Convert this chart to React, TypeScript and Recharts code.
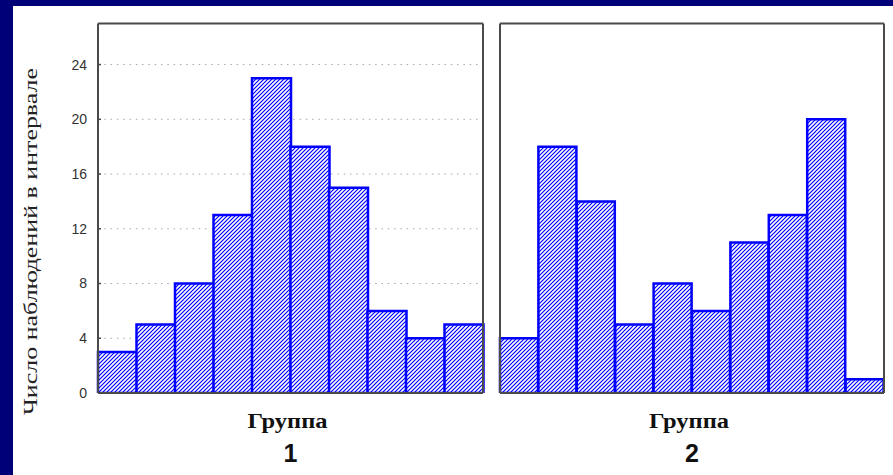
import React from 'react';
import { BarChart, Bar, XAxis, YAxis, CartesianGrid } from 'recharts';

const categories = ['1', '2', '3', '4', '5', '6', '7', '8', '9', '10'];
const group1Values = [3, 5, 8, 13, 23, 18, 15, 6, 4, 5];
const group2Values = [4, 18, 14, 5, 8, 6, 11, 13, 20, 1];
const yTicks = [0, 4, 8, 12, 16, 20, 24];
const boundaryTicks = [1, 2, 3, 4, 5, 6, 7, 8, 9];
const yAxisTitle = 'Число наблюдений в интервале';
const groupTitle = 'Группа';
const groupNames = ['1', '2'];

const FRAME = '#4a4a4a';
const BLUE = '#0000ff';

type PanelProps = {
  values: number[];
  groupName: string;
  showYLabels: boolean;
  width: number;
  margin: { top: number; right: number; bottom: number; left: number };
  leftAxisWidth: number;
  pid: string;
};

function Panel({ values, groupName, showYLabels, width, margin, leftAxisWidth, pid }: PanelProps) {
  const data = categories.map((c, i) => ({ cat: c, v: values[i], pos: i + 0.5 }));
  return (
    <BarChart
      width={width}
      height={469}
      data={data}
      margin={margin}
      barCategoryGap={0}
      barGap={0}
    >
      <defs>
        <pattern id={pid} patternUnits="userSpaceOnUse" width={4} height={4}>
          <rect x={0} y={0} width={4} height={4} fill="#ffffff" />
          <path d="M-1,1 L1,-1 M0,4 L4,0 M3,5 L5,3" stroke={BLUE} strokeWidth={1.2} />
        </pattern>
      </defs>
      <CartesianGrid
        xAxisId="b"
        yAxisId="l"
        vertical={false}
        stroke="#a8a8a8"
        strokeDasharray="1.5 4.8"
      />
      <XAxis
        dataKey="cat"
        xAxisId="b"
        height={82}
        axisLine={{ stroke: FRAME, strokeWidth: 2 }}
        tickLine={false}
        tick={false}
        label={{
          content: (p: any) => {
            const vb = p.viewBox || { x: 0, y: 0, width: 0 };
            const cx = vb.x + vb.width / 2;
            return (
              <g>
                <text
                  x={cx - 3}
                  y={vb.y + 35}
                  textAnchor="middle"
                  fontFamily="'Liberation Serif', serif"
                  fontWeight="bold"
                  fontSize={20}
                  fill="#111"
                  textLength={80}
                  lengthAdjust="spacingAndGlyphs"
                >
                  {groupTitle}
                </text>
                <text
                  x={cx}
                  y={vb.y + 69}
                  textAnchor="middle"
                  fontFamily="'Liberation Sans', Arial, sans-serif"
                  fontWeight="bold"
                  fontSize={25}
                  fill="#111"
                >
                  {groupName}
                </text>
              </g>
            );
          },
        }}
      />
      <XAxis
        xAxisId="t"
        dataKey="pos"
        orientation="top"
        type="number"
        domain={[0, 10]}
        allowDataOverflow
        ticks={boundaryTicks}
        height={1}
        axisLine={{ stroke: FRAME, strokeWidth: 2 }}
        tickLine={{ stroke: FRAME, strokeWidth: 1.5 }}
        tickSize={-3}
        tick={false}
      />
      <YAxis
        yAxisId="l"
        domain={[0, 27]}
        allowDataOverflow
        ticks={yTicks}
        interval={0}
        width={leftAxisWidth}
        axisLine={{ stroke: FRAME, strokeWidth: 2 }}
        tickLine={{ stroke: FRAME, strokeWidth: 1.5 }}
        tickSize={-3}
        tickMargin={14}
        tick={
          showYLabels
            ? { fill: '#333', fontSize: 14, fontFamily: "'Liberation Sans', Arial, sans-serif" }
            : false
        }
        label={
          showYLabels
            ? {
                content: () => (
                  <text
                    x={24}
                    y={235.5}
                    transform="rotate(-90, 24, 235.5)"
                    textAnchor="middle"
                    fontFamily="'Liberation Serif', serif"
                    fontSize={18}
                    fill="#222"
                    textLength={347}
                    lengthAdjust="spacingAndGlyphs"
                  >
                    {yAxisTitle}
                  </text>
                ),
              }
            : undefined
        }
      />
      <YAxis
        yAxisId="r"
        dataKey="v"
        orientation="right"
        domain={[0, 27]}
        allowDataOverflow
        ticks={yTicks}
        interval={0}
        width={1}
        axisLine={{ stroke: FRAME, strokeWidth: 2 }}
        tickLine={{ stroke: FRAME, strokeWidth: 1.5 }}
        tickSize={-3}
        tick={false}
      />
      <Bar
        dataKey="v"
        xAxisId="b"
        yAxisId="l"
        fill={`url(#${pid})`}
        stroke={BLUE}
        strokeWidth={2.5}
        isAnimationActive={false}
      />
    </BarChart>
  );
}

export default function App() {
  return (
    <div
      style={{
        position: 'absolute',
        left: 0,
        top: 0,
        width: 893,
        height: 475,
        background: '#000078',
        overflow: 'hidden',
      }}
    >
      <div style={{ position: 'absolute', left: 13, top: 6, width: 880, height: 469, background: '#ffffff' }} />
      <div style={{ position: 'absolute', left: 13, top: 6 }}>
        <Panel
          values={group1Values}
          groupName={groupNames[0]}
          showYLabels={true}
          width={480}
          margin={{ top: 16.5, right: 9, bottom: 0, left: 0 }}
          leftAxisWidth={85}
          pid="hatch1"
        />
      </div>
      <div style={{ position: 'absolute', left: 493, top: 6 }}>
        <Panel
          values={group2Values}
          groupName={groupNames[1]}
          showYLabels={false}
          width={400}
          margin={{ top: 16.5, right: 8, bottom: 0, left: 6 }}
          leftAxisWidth={1}
          pid="hatch2"
        />
      </div>
    </div>
  );
}
